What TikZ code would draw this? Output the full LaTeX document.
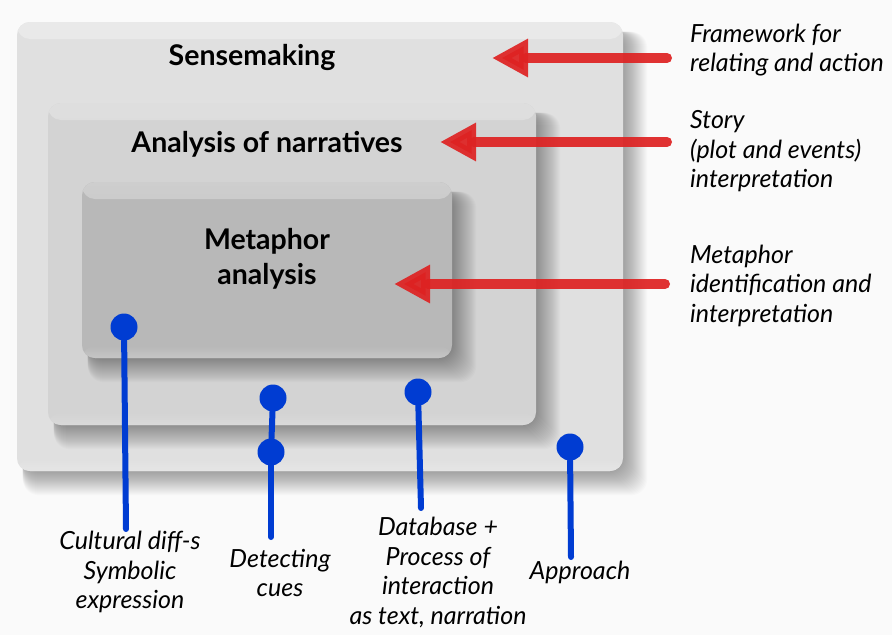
\documentclass[tikz,border=0pt]{standalone}
\usepackage{fontspec}
\setmainfont{Lato}
\usetikzlibrary{arrows.meta}
\definecolor{bg}{HTML}{FAFAFA}
\definecolor{outerc}{HTML}{E0E0E0}
\definecolor{outerl}{HTML}{E9E9E9}
\definecolor{midc}{HTML}{D3D3D3}
\definecolor{midl}{HTML}{DEDEDE}
\definecolor{innc}{HTML}{B8B8B8}
\definecolor{innl}{HTML}{CECECE}
\definecolor{arrowred}{RGB}{222,34,34}
\definecolor{pinblue}{RGB}{0,60,210}
\newcommand\softshadow[1]{%
  \foreach \i in {1,...,24}{%
    \fill[black,opacity=0.016,rounded corners=16]
      ([shift={(6,10)}]#1.north west) rectangle ([shift={(\i,\i)}]#1.south east);}}
\begin{document}
\begin{tikzpicture}[x=1pt,y=-1pt,
  panel/.style 2 args={rectangle, rounded corners=13, inner sep=0, fill=#1,
    path picture={
      \shade[top color=#2, bottom color=#1]
        (path picture bounding box.north west) rectangle ([yshift=-17pt]path picture bounding box.north east);
      \shade[top color=#1, bottom color=#2!60!#1]
        ([yshift=12pt]path picture bounding box.south west) rectangle (path picture bounding box.south east);}},
  title/.style={font=\bfseries\fontsize{28.5}{35}\selectfont, align=center, inner sep=0},
  label/.style={font=\itshape\fontsize{25}{29.5}\selectfont, inner sep=0},
  redarrow/.style={draw=arrowred, opacity=0.92, line width=10pt, line cap=round,
    -{Triangle[width=36pt,length=36pt]}},
  pin/.style={circle, fill=pinblue, minimum size=27, inner sep=0},
  pinline/.style={draw=pinblue, line width=6pt, line cap=round}]
\fill[bg] (0,0) rectangle (892,635);
\useasboundingbox (0,0) rectangle (892,635);

% boxes
\path (320,246.5) node[minimum width=606, minimum height=449] (outerg) {};
\softshadow{outerg}
\node[panel={outerc}{outerl}, minimum width=606, minimum height=449] (outer) at (320,246.5) {};
\path (292,264) node[minimum width=488, minimum height=322] (midg) {};
\softshadow{midg}
\node[panel={midc}{midl}, minimum width=488, minimum height=322] (mid) at (292,264) {};
\path (267,270) node[minimum width=370, minimum height=176] (inng) {};
\softshadow{inng}
\node[panel={innc}{innl}, minimum width=370, minimum height=176] (inn) at (267,270) {};

% titles
\node[title] (tsense) at (252,57) {Sensemaking};
\node[title] (tnarr) at (267,144) {Analysis of narratives};
\node[title] (tmeta) at (267,259) {Metaphor\\analysis};

% red arrows
\coordinate (r1s) at (667,58);  \coordinate (r1e) at (492,58);
\coordinate (r2s) at (667,142); \coordinate (r2e) at (440,142);
\coordinate (r3s) at (665,284); \coordinate (r3e) at (394,284);
\draw[redarrow] (r1s) -- (r1e);
\draw[redarrow] (r2s) -- (r2e);
\draw[redarrow] (r3s) -- (r3e);

% right labels
\node[label, anchor=west, align=left] (lframe) at (690,50) {Framework for\\relating and action};
\node[label, anchor=west, align=left] (lstory) at (690,151.5) {Story\\(plot and events)\\interpretation};
\node[label, anchor=west, align=left] (lmeta) at (690,285.5) {Metaphor\\identification and\\interpretation};

% blue pins
\node[pin] (p1) at (124,327) {};
\node[pin] (p2a) at (273,398) {};
\node[pin] (p2b) at (271,452) {};
\node[pin] (p3) at (418,392) {};
\node[pin] (p4) at (570,447) {};
\coordinate (e1) at (126,529);
\coordinate (e2) at (271,537);
\coordinate (e3) at (421,508);
\coordinate (e4) at (571,557);
\draw[pinline] (p1) -- (e1);
\draw[pinline] (p2a) -- (p2b);
\draw[pinline] (p2b) -- (e2);
\draw[pinline] (p3) -- (e3);
\draw[pinline] (p4) -- (e4);

% bottom labels
\node[label, align=center] (lcult) at (130,572) {Cultural diff-s\\Symbolic\\expression};
\node[label, align=center] (ldet) at (280,573) {Detecting\\cues};
\node[label, align=center] (ldb) at (438,572.5) {Database +\\Process of\\interaction\\as text, narration};
\node[label, align=center] (lapp) at (580,572) {Approach};
\end{tikzpicture}
\end{document}
